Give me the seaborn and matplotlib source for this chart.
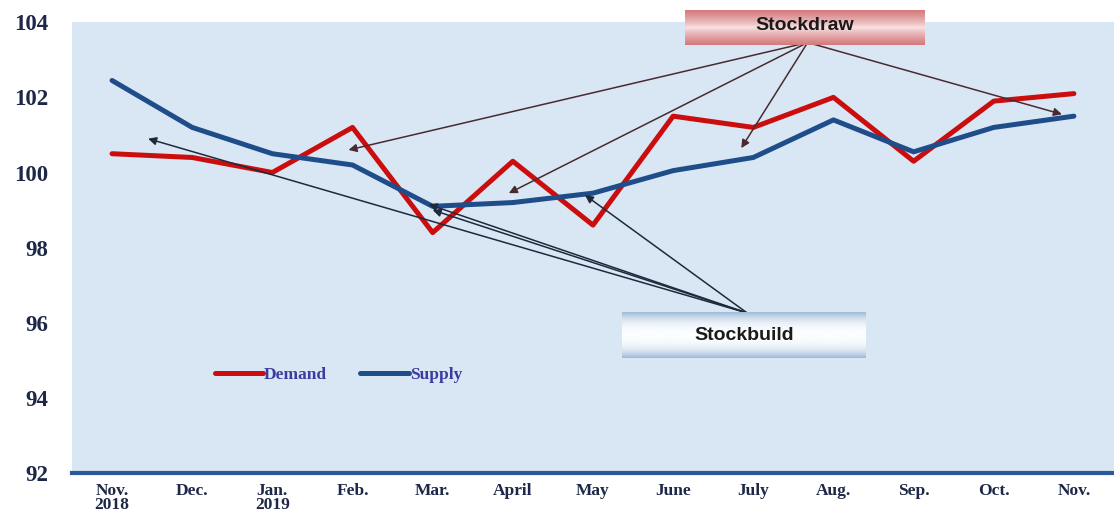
import numpy as np
import pandas as pd
import seaborn as sns
import matplotlib.pyplot as plt
from matplotlib.ticker import FixedLocator

months = ["Nov.\n2018", "Dec.", "Jan.\n2019", "Feb.", "Mar.", "April", "May",
          "June", "July", "Aug.", "Sep.", "Oct.", "Nov."]
demand = [100.5, 100.4, 100.0, 101.2, 98.4, 100.3, 98.6, 101.5, 101.2, 102.0, 100.3, 101.9, 102.1]
supply = [102.45, 101.2, 100.5, 100.2, 99.1, 99.2, 99.45, 100.05, 100.4, 101.4, 100.55, 101.2, 101.5]

df = pd.DataFrame({"month": months * 2,
                   "value": demand + supply,
                   "series": ["Demand"] * 13 + ["Supply"] * 13})

sns.set_style("white")
plt.rcParams["font.family"] = ["Liberation Serif", "DejaVu Serif"]

fig = plt.figure(figsize=(11.14, 5.17), dpi=100)
ax = fig.add_axes([0.0646, 0.085, 0.9354, 0.872])
ax.set_facecolor("#d9e7f5")

sns.lineplot(data=df, x="month", y="value", hue="series", sort=False,
             palette={"Demand": "#cc0d0d", "Supply": "#1f4d8a"},
             linewidth=3.6, ax=ax)

ax.set_xlim(-0.5, 12.5)
ax.set_ylim(92, 104)
ax.set_yticks(range(92, 105, 2))
ax.set_xlabel("")
ax.set_ylabel("")

for s in ["top", "right", "left"]:
    ax.spines[s].set_visible(False)
ax.spines["bottom"].set_color("#2c5a98")
ax.spines["bottom"].set_linewidth(3)

ax.tick_params(axis="y", length=0, pad=17, labelsize=16.5, labelcolor="#1d2747")
ax.tick_params(axis="x", which="major", length=0, pad=7, labelsize=12.5, labelcolor="#1d2747")
for lab in ax.get_xticklabels() + ax.get_yticklabels():
    lab.set_fontweight("bold")
for lab in ax.get_xticklabels():
    lab.set_verticalalignment("top")
    lab.set_linespacing(0.85)
ax.xaxis.set_minor_locator(FixedLocator(np.arange(-0.5, 13, 1)))
ax.tick_params(axis="x", which="minor", length=5, width=2.5, color="#2c5a98", direction="out")

leg = ax.legend(loc="center left", bbox_to_anchor=(0.122, 0.217), ncol=2, frameon=False,
                handlelength=2.8, handletextpad=0.05, columnspacing=1.9,
                prop={"family": "Liberation Serif", "weight": "bold", "size": 12.5})
for t in leg.get_texts():
    t.set_color("#3b3ba0")
for h in leg.get_lines():
    h.set_linewidth(3.6)

# Stockdraw annotation
draw_src = (0.706, 0.955)
draw_targets = [(2.95, demand[3] - 0.6), (4.95, demand[5] - 0.85),
                (7.85, demand[8] - 0.55), (11.85, demand[11] - 0.35)]
for xt, yt in draw_targets:
    ax.annotate("", xy=(xt, yt), xytext=draw_src, textcoords="axes fraction",
                arrowprops=dict(arrowstyle="-|>", color="#4a2a30", lw=1.1,
                                mutation_scale=12, shrinkA=0, shrinkB=0))

build_src = (0.648, 0.355)
build_targets = [(0.45, 100.9), (3.95, 99.15), (4.0, 99.0), (5.9, supply[6] - 0.05)]
for xt, yt in build_targets:
    ax.annotate("", xy=(xt, yt), xytext=build_src, textcoords="axes fraction",
                arrowprops=dict(arrowstyle="-|>", color="#1e2a3c", lw=1.1,
                                mutation_scale=12, shrinkA=0, shrinkB=0))

# gradient boxes
grad = np.abs(np.linspace(-1, 1, 64))[:, None]
bx1 = fig.add_axes([685 / 1114, 1 - 45 / 517, 240 / 1114, 35 / 517])
bx1.imshow(grad ** 0.8, aspect="auto", extent=(0, 1, 0, 1),
           cmap=sns.blend_palette(["#f8e4e4", "#d4797c"], as_cmap=True), vmin=0, vmax=1)
bx1.text(0.5, 0.55, "Stockdraw", ha="center", va="center", fontsize=14, fontweight="bold",
         family="Liberation Sans", color="#1a1a1a")
bx1.axis("off")

bx2 = fig.add_axes([622 / 1114, 1 - 358 / 517, 244 / 1114, 46 / 517])
bx2.imshow(grad ** 2.5, aspect="auto", extent=(0, 1, 0, 1),
           cmap=sns.blend_palette(["#fbfdff", "#9fbbd8"], as_cmap=True), vmin=0, vmax=1)
bx2.text(0.5, 0.5, "Stockbuild", ha="center", va="center", fontsize=14, fontweight="bold",
         family="Liberation Sans", color="#1a1a1a")
bx2.axis("off")

fig.savefig("out.png", dpi=100)
